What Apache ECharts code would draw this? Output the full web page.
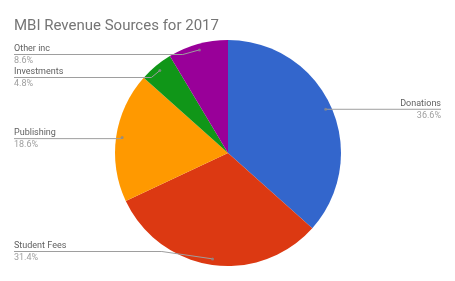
<!DOCTYPE html>
<html><head><meta charset="utf-8">
<script src="https://cdn.jsdelivr.net/npm/echarts@6/dist/echarts.min.js"></script>
<style>html,body{margin:0;padding:0;background:#fff}#c{width:455px;height:281px}</style>
</head><body><div id="c"></div>
<script>
const titleText = 'MBI Revenue Sources for 2017';
const categories = ['Donations', 'Student Fees', 'Publishing', 'Investments', 'Other inc'];
const values = [36.6, 31.4, 18.6, 4.8, 8.6];
const colors = ['#3366cc', '#dc3912', '#ff9900', '#109618', '#990099'];

const chart = echarts.init(document.getElementById('c'), null, {renderer: 'canvas'});
const data = categories.map((n, i) => ({name: n, value: values[i], itemStyle: {color: colors[i]}}));
const total = values.reduce((a, b) => a + b, 0);
let acc = 0;
const midAngles = values.map(v => { const mid = acc + v / 2; acc += v; return mid; });
const dotData = midAngles.map(m => [107, m]);
const VTOP = 43, VBOT = 18;
const LABEL_FONT = '9px Roboto';
const ctx = document.createElement('canvas').getContext('2d');
ctx.font = LABEL_FONT;
const labelData = data.map((d, i) => {
  const pctText = (d.value / total * 100).toFixed(1) + '%';
  const w = Math.max(ctx.measureText(d.name).width, ctx.measureText(pctText).width);
  return {name: d.name, value: d.value, label: {distanceToLabelLine: -w}};
});
chart.setOption({
  animation: false,
  title: {text: titleText, left: 9, top: 14, textStyle: {fontFamily: 'Roboto', fontSize: 15, fontWeight: 'normal', color: '#757575'}},
  polar: {center: [228, 153], radius: 113},
  angleAxis: {type: 'value', min: 0, max: total, startAngle: 90, clockwise: true, show: false},
  radiusAxis: {type: 'value', min: 0, max: 113, show: false},
  series: [
    {
      type: 'pie', center: [228, 153], radius: 113, startAngle: 90, clockwise: true,
      data: data, label: {show: false}, labelLine: {show: false}, silent: true, z: 1,
      itemStyle: {borderWidth: 0}
    },
    {
      type: 'pie', top: VTOP, bottom: VBOT, center: [228, 153 - VTOP], radius: 107, startAngle: 90, clockwise: true, z: 5,
      silent: true, percentPrecision: 1,
      data: labelData,
      itemStyle: {color: 'rgba(0,0,0,0)'},
      label: {
        show: true, alignTo: 'edge', edgeDistance: 14,
        formatter: '{n|{b}}\n{p|{d}%}',
        rich: {
          n: {fontFamily: 'Roboto', fontSize: 9, color: '#616161', lineHeight: 12},
          p: {fontFamily: 'Roboto', fontSize: 9, color: '#9e9e9e', lineHeight: 12}
        }
      },
      labelLine: {show: true, length: 0, length2: 0, lineStyle: {color: '#9e9e9e', width: 1}}
    },
    {
      type: 'scatter', coordinateSystem: 'polar', data: dotData, symbol: 'circle', symbolSize: 3,
      itemStyle: {color: '#8a8a8a'}, silent: true, z: 6
    }
  ]
});
</script></body></html>
